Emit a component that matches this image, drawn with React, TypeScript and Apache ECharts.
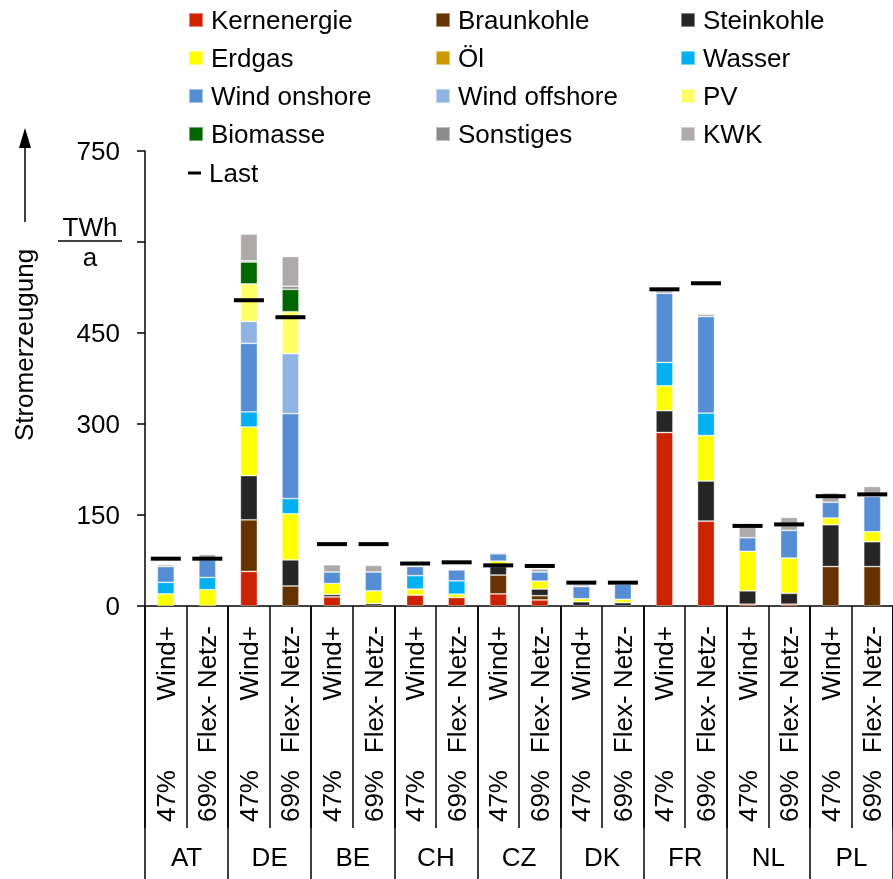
import React, { useEffect, useRef } from 'react';
import * as echarts from 'echarts';

const FONT = "'Liberation Sans', Arial, sans-serif";

const countries = ['AT', 'DE', 'BE', 'CH', 'CZ', 'DK', 'FR', 'NL', 'PL'];
const scenarios = ['Wind+', 'Flex- Netz-'];
const shares = ['47%', '69%'];
const categories = countries.flatMap((c) => scenarios.map((s, i) => `${c}|${s}|${shares[i]}`));

// order: AT W, AT F, DE W, DE F, BE W, BE F, CH W, CH F, CZ W, CZ F, DK W, DK F, FR W, FR F, NL W, NL F, PL W, PL F
const kernenergie = [0, 0, 57, 0, 15, 0, 18, 14, 20, 10, 0, 0, 286, 140, 3, 3, 0, 0];
const braunkohle = [0, 0, 85, 33, 0, 0, 0, 0, 31, 7, 0, 0, 0, 0, 0, 0, 65, 65];
const steinkohle = [0, 0, 73, 43, 4, 4, 0, 0, 14, 11, 7, 5.5, 36, 66, 22, 18, 69, 41];
const erdgas = [20, 27, 80, 76, 18, 21, 10, 5.5, 9, 13, 5, 5.5, 41, 75, 65, 58, 11, 16.5];
const oel = [0, 0, 0, 0, 0, 0, 0, 0, 0, 0, 0, 0, 0, 0, 0, 0, 0, 0];
const wasser = [19, 20, 25, 25, 0, 0, 22, 22, 0, 0, 0, 0, 38.5, 37, 0, 0, 0, 0];
const windOnshore = [26, 29, 113, 140, 19, 31, 15, 18, 12, 15, 20, 25, 114, 159, 22.5, 45.5, 26, 58];
const windOffshore = [0, 0, 36, 99, 0, 0, 0, 0, 0, 0, 0, 0, 0, 0, 0, 0, 0, 0];
const pv = [0, 0, 62, 69, 0, 0, 0, 0, 0, 0, 0, 0, 0, 0, 0, 0, 0, 0];
const biomasse = [0, 0, 36, 37, 0, 0, 0, 0, 0, 0, 0, 0, 0, 0, 0, 0, 0, 0];
const sonstiges = [0, 0, 2, 5, 0, 0, 0, 0, 0, 0, 0, 0, 0, 0, 0, 0, 0, 0];
const kwk = [3, 9, 44, 49, 12, 11, 0, 0, 2, 5, 3, 5.5, 4, 4, 17.5, 21.5, 15.5, 16.5];
const last = [78, 78, 504, 476, 102, 102, 70, 72, 67, 66, 38.5, 38.5, 522, 532, 132, 134.5, 181, 184];

const yTicks = [0, 150, 300, 450, 600, 750];
const yTickLabels = ['0', '150', '300', '450', '', '750'];

const sourceNames = ['Kernenergie', 'Braunkohle', 'Steinkohle', 'Erdgas', 'Öl', 'Wasser', 'Wind onshore', 'Wind offshore', 'PV', 'Biomasse', 'Sonstiges', 'KWK'];
const sourceData = [kernenergie, braunkohle, steinkohle, erdgas, oel, wasser, windOnshore, windOffshore, pv, biomasse, sonstiges, kwk];
const sourceColors = ['#CC2200', '#663300', '#262626', '#FFFF00', '#CC9900', '#00B0F0', '#558ED5', '#8EB4E3', '#FFFF66', '#006600', '#8C8C8C', '#AEAAAA'];

export default function App() {
  const ref = useRef<HTMLDivElement>(null);
  useEffect(() => {
    if (!ref.current) return;
    const chart = echarts.init(ref.current, undefined, { renderer: 'svg' });
    const lineStyle = { color: '#000', width: 1.5 };
    const legendBase: any = {
      orient: 'vertical',
      itemWidth: 14,
      itemHeight: 14,
      itemGap: 12,
      icon: 'rect',
      padding: 0,
      selectedMode: false,
      textStyle: { fontSize: 26, lineHeight: 26, color: '#000', fontFamily: FONT, padding: [0, 0, 0, 3] },
    };
    const option: any = {
      animation: false,
      textStyle: { fontFamily: FONT },
      grid: { left: 145, top: 151, width: 750, height: 455, containLabel: false },
      legend: [
        { ...legendBase, left: 188, top: 7, data: ['Kernenergie', 'Erdgas', 'Wind onshore', 'Biomasse'] },
        { ...legendBase, left: 435, top: 7, data: ['Braunkohle', 'Öl', 'Wind offshore', 'Sonstiges'] },
        { ...legendBase, left: 680, top: 7, data: ['Steinkohle', 'Wasser', 'PV', 'KWK'] },
        { ...legendBase, left: 188, top: 160, itemWidth: 13, itemHeight: 3, data: ['Last'] },
      ],
      xAxis: [
        {
          type: 'category',
          data: categories,
          position: 'bottom',
          axisLine: { lineStyle },
          axisTick: { show: true, interval: 0, length: 222, lineStyle },
          axisLabel: {
            interval: 0, rotate: 90, margin: 20, fontSize: 26, color: '#000', fontFamily: FONT,
            formatter: (v: string) => v.split('|')[1],
          },
        },
        {
          type: 'category',
          data: categories,
          position: 'bottom',
          axisLine: { show: false },
          axisTick: { show: false },
          axisLabel: {
            interval: 0, rotate: 90, margin: 164, fontSize: 26, color: '#000', fontFamily: FONT,
            formatter: (v: string) => v.split('|')[2],
          },
        },
        {
          type: 'category',
          data: countries,
          position: 'bottom',
          axisLine: { show: false },
          axisTick: { show: true, interval: 0, length: 273, lineStyle },
          axisLabel: { interval: 0, margin: 238, fontSize: 26, color: '#000', fontFamily: FONT },
        },
      ],
      yAxis: {
        type: 'value',
        min: 0,
        max: 750,
        interval: 150,
        axisLine: { show: true, lineStyle },
        axisTick: { show: true, length: 8, lineStyle },
        splitLine: { show: false },
        axisLabel: {
          margin: 25, fontSize: 26, color: '#000', fontFamily: FONT,
          formatter: (v: number) => {
            const i = yTicks.indexOf(v);
            return i >= 0 ? yTickLabels[i] : '';
          },
        },
      },
      graphic: [
        {
          type: 'text', x: 24, y: 345, rotation: Math.PI / 2,
          style: { text: 'Stromerzeugung', fontSize: 26, fontFamily: FONT, fill: '#000', align: 'center', verticalAlign: 'middle' },
        },
        { type: 'line', shape: { x1: 25, y1: 222, x2: 25, y2: 145 }, style: { stroke: '#000', lineWidth: 1.5 } },
        { type: 'polygon', shape: { points: [[19, 148], [31, 148], [25, 128]] }, style: { fill: '#000' } },
        {
          type: 'text', x: 90, y: 227,
          style: { text: 'TWh', fontSize: 26, fontFamily: FONT, fill: '#000', align: 'center', verticalAlign: 'middle' },
        },
        { type: 'line', shape: { x1: 58, y1: 241, x2: 122, y2: 241 }, style: { stroke: '#000', lineWidth: 1.5 } },
        {
          type: 'text', x: 90, y: 257,
          style: { text: 'a', fontSize: 26, fontFamily: FONT, fill: '#000', align: 'center', verticalAlign: 'middle' },
        },
      ],
      series: [
        ...sourceNames.map((name, i) => ({
          name,
          type: 'bar',
          stack: 'total',
          xAxisIndex: 0,
          barWidth: 17,
          data: sourceData[i].map((v) => (v === 0 ? '-' : v)),
          itemStyle: { color: sourceColors[i], borderColor: 'rgba(255,255,255,0.45)', borderWidth: 0.8 },
        })),
        {
          name: 'Last',
          type: 'scatter',
          xAxisIndex: 0,
          symbol: 'rect',
          symbolSize: [30, 4],
          z: 10,
          data: last,
          itemStyle: { color: '#000', opacity: 1 },
        },
      ],
    };
    chart.setOption(option);
    return () => chart.dispose();
  }, []);
  return <div ref={ref} style={{ position: 'fixed', left: 0, top: 0, width: 893, height: 879 }} />;
}
